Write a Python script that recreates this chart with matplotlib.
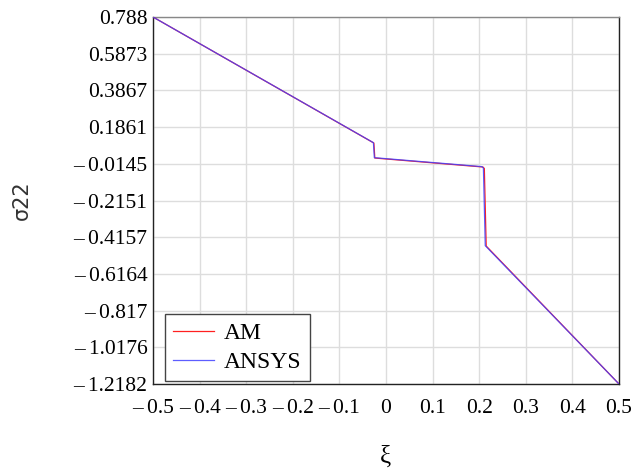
import matplotlib
matplotlib.use("Agg")
import matplotlib.pyplot as plt

# sigma22 along xi
xi_am = [-0.5, -0.026, -0.024, 0.208, 0.211, 0.215, 0.5]
s22_am = [0.788, 0.099, 0.017, -0.032, -0.040, -0.464, -1.2182]

xi_ansys = [-0.5, -0.027, -0.025, 0.206, 0.209, 0.213, 0.5]
s22_ansys = [0.788, 0.101, 0.019, -0.030, -0.038, -0.462, -1.2182]

x_ticks = [-0.5, -0.4, -0.3, -0.2, -0.1, 0.0, 0.1, 0.2, 0.3, 0.4, 0.5]
x_labels = ["\u2013\u20090.5", "\u2013\u20090.4", "\u2013\u20090.3", "\u2013\u20090.2",
            "\u2013\u20090.1", "0", "0.1", "0.2", "0.3", "0.4", "0.5"]
y_ticks = [0.788, 0.5873, 0.3867, 0.1861, -0.0145, -0.2151, -0.4157,
           -0.6164, -0.817, -1.0176, -1.2182]
y_labels = ["0.788", "0.5873", "0.3867", "0.1861", "\u2013\u20090.0145",
            "\u2013\u20090.2151", "\u2013\u20090.4157", "\u2013\u20090.6164",
            "\u2013\u20090.817", "\u2013\u20091.0176", "\u2013\u20091.2182"]

serif = ["Liberation Serif", "DejaVu Serif"]

fig = plt.figure(figsize=(6.42, 4.71), dpi=100)
ax = fig.add_axes([0.2383, 0.1847, 0.7259, 0.7792])

ax.plot(xi_am, s22_am, color="#ff2020", lw=0.9, label="AM", zorder=3)
ax.plot(xi_ansys, s22_ansys, color="#4040ff", lw=0.9, alpha=0.85, label="ANSYS", zorder=4)

ax.set_xlim(-0.5, 0.5)
ax.set_ylim(-1.2182, 0.788)
ax.set_xticks(x_ticks)
ax.set_xticklabels(x_labels, fontfamily=serif, fontsize=15.5)
ax.set_yticks(y_ticks)
ax.set_yticklabels(y_labels, fontfamily=serif, fontsize=15.5)
ax.tick_params(axis="y", length=0, pad=4)
ax.tick_params(axis="x", length=0, pad=11)

ax.grid(True, color="#dddddd", lw=1.0, zorder=0)
ax.set_axisbelow(True)

for side in ("left", "bottom", "right"):
    ax.spines[side].set_color("#222222")
    ax.spines[side].set_linewidth(1.0)
ax.spines["top"].set_color("#888888")
ax.spines["top"].set_linewidth(1.0)

fig.text(0.034, 0.575, "\u03c322", rotation=90, ha="center", va="center",
         fontsize=15, color="#333333")
fig.text(0.601, 0.03, "\u03be", ha="center", va="center",
         fontfamily=serif, fontsize=18)

leg = ax.legend(loc="lower left", bbox_to_anchor=(0.026, 0.008), prop={"family": serif, "size": 17},
                frameon=True, fancybox=False, edgecolor="#444444", framealpha=1,
                handlelength=1.7, borderpad=0.35, labelspacing=0.3, handletextpad=0.45,
                borderaxespad=0.0)
leg.get_frame().set_linewidth(1.0)

fig.savefig("out.png", dpi=100)
